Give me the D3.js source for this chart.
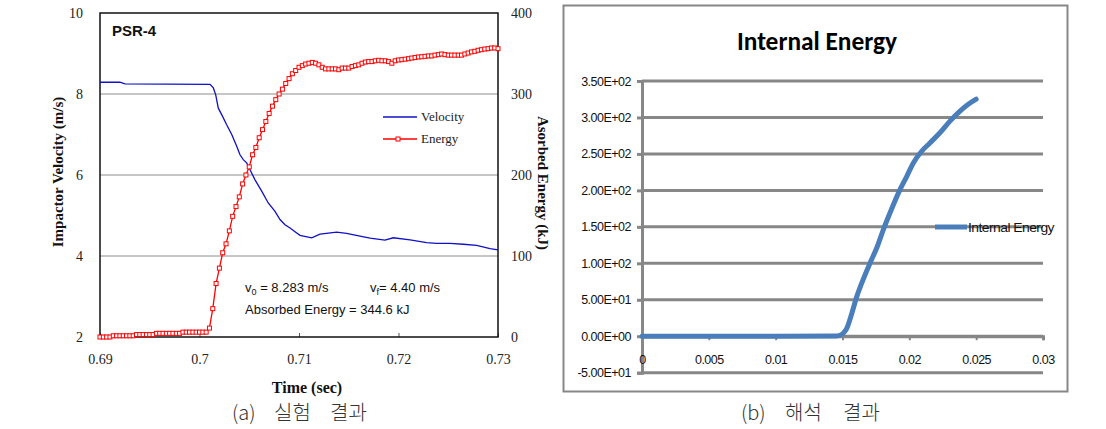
<!DOCTYPE html>
<html><head><meta charset="utf-8">
<script src="https://cdn.jsdelivr.net/npm/d3@7"></script>
<style>body{margin:0;background:#fff}svg{display:block}</style>
</head><body><svg id="c" width="1106" height="429"></svg>
<script>
// ---------- (a) experiment ----------
const velTime = [0.6900,0.6920,0.69251,0.70106,0.70139,0.70163,0.70189,0.70223,0.70273,0.70324,0.70374,0.70407,0.70440,0.70474,0.70508,0.70558,0.70625,0.70691,0.70759,0.70809,0.70859,0.70910,0.70960,0.71010,0.71128,0.71211,0.71379,0.71478,0.71613,0.71714,0.71864,0.71948,0.72116,0.72283,0.72384,0.72518,0.72652,0.72786,0.72920,0.73000];
const velValue = [8.29,8.29,8.25,8.24,8.15,7.98,7.65,7.49,7.24,7.00,6.71,6.50,6.38,6.30,6.13,5.88,5.60,5.31,5.10,4.90,4.77,4.69,4.60,4.51,4.45,4.54,4.59,4.56,4.49,4.44,4.39,4.45,4.40,4.33,4.31,4.31,4.29,4.26,4.18,4.15];
const energyStart = 0.69, energyStep = 0.04/120;
const energyValue = [0,0,0,0,1.5,1.5,1.5,1.5,1.5,1.5,1.5,3,3,3,3,3,3,4.5,4.5,4.5,4.5,4.5,4.5,4.5,4.5,6,6,6,6,6,6,6,6,
 11,35,66,85,104,115,131,149,161,173,189,200,210,225,234,246,256,266,276,285,293,300,306,313,319,325,329,333,335,337,338,339,338,336,333,331,331,331,331,330,332,332,332,334,335,336,338,339.5,340,340,341,341.6,341,341,340,338,341,342,342.4,343,343.6,344.4,345,345.7,346,346.5,347,347,348,348.6,349.4,348.6,348,348,348,348,348,349.4,350.6,352,352.7,354,354.7,355.5,356,356.8,356.8,356];
const aXTicks = [0.69,0.70,0.71,0.72,0.73];
const aXTickLabels = ["0.69","0.7","0.71","0.72","0.73"];
const aVelTicks = [2,4,6,8,10];
const aEnergyTicks = [0,100,200,300,400];

// ---------- (b) analysis ----------
const simTime = [0,0.005,0.01,0.0145,0.01481,0.0151,0.01531,0.01569,0.01606,0.01643,0.01705,0.01755,0.01805,0.01855,0.0193,0.0198,0.0203,0.02092,0.02154,0.02229,0.02304,0.02379,0.02441,0.0250];
const simEnergy = [0,0,0,0.3,1.4,5,10.5,31,54,72.5,100,120.6,146,169,201,219,237.6,253.7,265,279,295,308.7,318,325];
const bXTicks = [0,0.005,0.01,0.015,0.02,0.025,0.03];
const bXTickLabels = ["0","0.005","0.01","0.015","0.02","0.025","0.03"];
const bYTicks = [-50,0,50,100,150,200,250,300,350];
const bYTickLabels = ["-5.00E+01","0.00E+00","5.00E+01","1.00E+02","1.50E+02","2.00E+02","2.50E+02","3.00E+02","3.50E+02"];

const svg = d3.select("#c");
const serif = "'Liberation Serif','Times New Roman',serif";
const sans = "'Liberation Sans',Arial,sans-serif";

// ===== Panel (a) =====
const L = {l:100, r:498, t:13, b:337};
const xA = d3.scaleLinear().domain([0.69,0.73]).range([L.l,L.r]);
const yV = d3.scaleLinear().domain([2,10]).range([L.b,L.t]);
const yE = d3.scaleLinear().domain([0,400]).range([L.b,L.t]);
const gA = svg.append("g");

// gridlines
gA.selectAll(".grid").data(aVelTicks.filter(d=>d>2&&d<10)).enter().append("line")
  .attr("x1",L.l).attr("x2",L.r).attr("y1",d=>yV(d)).attr("y2",d=>yV(d))
  .attr("stroke","#8c8c8c").attr("stroke-width",1);

// x axis (inner ticks)
const xAxisA = d3.axisBottom(xA).tickValues(aXTicks).tickFormat((d,i)=>aXTickLabels[i]).tickSize(-4).tickPadding(17);
const gxA = gA.append("g").attr("transform",`translate(0,${L.b})`).call(xAxisA);
gxA.select(".domain").remove();
gxA.selectAll("line").attr("stroke","#555");
gxA.selectAll("text").attr("font-family",serif).attr("font-size",14).attr("fill","#222");

// left axis
const gyA = gA.append("g").attr("transform",`translate(${L.l},0)`)
  .call(d3.axisLeft(yV).tickValues(aVelTicks).tickSize(0).tickPadding(17));
gyA.select(".domain").remove();
gyA.selectAll("text").attr("font-family",serif).attr("font-size",14).attr("fill","#222");

// right axis
const gyA2 = gA.append("g").attr("transform",`translate(${L.r},0)`)
  .call(d3.axisRight(yE).tickValues(aEnergyTicks).tickSize(0).tickPadding(13));
gyA2.select(".domain").remove();
gyA2.selectAll("text").attr("font-family",serif).attr("font-size",14).attr("fill","#222");

// frame
gA.append("rect").attr("x",L.l).attr("y",L.t).attr("width",L.r-L.l).attr("height",L.b-L.t)
  .attr("fill","none").attr("stroke","#111").attr("stroke-width",1.5);

// velocity line
const velData = velTime.map((t,i)=>({t, v:velValue[i]}));
gA.append("path").datum(velData)
  .attr("d", d3.line().x(d=>xA(d.t)).y(d=>yV(d.v)))
  .attr("fill","none").attr("stroke","#1010c8").attr("stroke-width",1.3);

// energy line + markers
const enData = energyValue.map((e,i)=>({t: energyStart + i*energyStep, e}));
gA.append("path").datum(enData)
  .attr("d", d3.line().x(d=>xA(d.t)).y(d=>yE(d.e)))
  .attr("fill","none").attr("stroke","#ff0000").attr("stroke-width",1.3);
gA.selectAll(".mk").data(enData).enter().append("rect")
  .attr("x",d=>xA(d.t)-2).attr("y",d=>yE(d.e)-2).attr("width",4).attr("height",4)
  .attr("fill","#fff").attr("stroke","#ff0000").attr("stroke-width",1);

// PSR-4
gA.append("text").attr("x",112).attr("y",36).text("PSR-4")
  .attr("font-family",sans).attr("font-weight","bold").attr("font-size",15).attr("fill","#111");

// legend
gA.append("line").attr("x1",383).attr("x2",417).attr("y1",117).attr("y2",117).attr("stroke","#1010c8").attr("stroke-width",1.3);
gA.append("text").attr("x",421).attr("y",121).text("Velocity").attr("font-family",serif).attr("font-size",13).attr("fill","#222");
gA.append("line").attr("x1",383).attr("x2",417).attr("y1",139).attr("y2",139).attr("stroke","#ff0000").attr("stroke-width",1.3);
gA.append("rect").attr("x",396).attr("y",137).attr("width",4).attr("height",4).attr("fill","#fff").attr("stroke","#ff0000");
gA.append("text").attr("x",421).attr("y",143).text("Energy").attr("font-family",serif).attr("font-size",13).attr("fill","#222");

// annotations
const t1 = gA.append("text").attr("x",245).attr("y",292).attr("font-family",sans).attr("font-size",13).attr("fill","#111");
t1.append("tspan").text("v");
t1.append("tspan").attr("font-size",9).attr("dy",3).text("0");
t1.append("tspan").attr("dy",-3).text(" = 8.283 m/s");
const t2 = gA.append("text").attr("x",370).attr("y",292).attr("font-family",sans).attr("font-size",13).attr("fill","#111");
t2.append("tspan").text("v");
t2.append("tspan").attr("font-size",9).attr("dy",3).text("f");
t2.append("tspan").attr("dy",-3).text("= 4.40 m/s");
gA.append("text").attr("x",245).attr("y",314).text("Absorbed Energy = 344.6 kJ")
  .attr("font-family",sans).attr("font-size",13).attr("fill","#111");

// axis titles
gA.append("text").attr("x",307).attr("y",393).attr("text-anchor","middle").text("Time (sec)")
  .attr("font-family",serif).attr("font-weight","bold").attr("font-size",16).attr("fill","#111");
gA.append("text").attr("transform","translate(63,172) rotate(-90)").attr("text-anchor","middle")
  .text("Impactor Velocity (m/s)").attr("font-family",serif).attr("font-weight","bold").attr("font-size",15).attr("fill","#111");
gA.append("text").attr("transform","translate(538,183) rotate(90)").attr("text-anchor","middle")
  .text("Asorbed Energy (kJ)").attr("font-family",serif).attr("font-weight","bold").attr("font-size",15).attr("fill","#111");

// ===== Panel (b) =====
const R = {l:642, r:1043, t:81, b:372.7};
const xB = d3.scaleLinear().domain([0,0.03]).range([R.l,R.r]);
const yB = d3.scaleLinear().domain([-50,350]).range([R.b,R.t]);
const gB = svg.append("g");
const grey = "#878787";
const cal = "Carlito,Calibri,'Liberation Sans',Arial,sans-serif";

gB.append("rect").attr("x",563.5).attr("y",5.5).attr("width",504).attr("height",386)
  .attr("fill","#fff").attr("stroke",grey).attr("stroke-width",2);

gB.append("text").attr("x",817).attr("y",50).attr("text-anchor","middle").text("Internal Energy")
  .attr("font-family",cal).attr("font-weight","bold").attr("font-size",27).attr("fill","#000")
  .attr("textLength",160).attr("lengthAdjust","spacingAndGlyphs");

// gridlines
gB.selectAll(".g").data(bYTicks).enter().append("line")
  .attr("x1",R.l).attr("x2",R.r).attr("y1",d=>yB(d)).attr("y2",d=>yB(d))
  .attr("stroke",grey).attr("stroke-width",3);

// y axis
const gyB = gB.append("g").attr("transform",`translate(${R.l},0)`)
  .call(d3.axisLeft(yB).tickValues(bYTicks).tickFormat((d,i)=>bYTickLabels[i]).tickSize(5).tickPadding(6));
gyB.select(".domain").attr("stroke",grey).attr("stroke-width",3);
gyB.selectAll("line").attr("stroke",grey).attr("stroke-width",3);
gyB.selectAll("text").attr("font-family",sans).attr("font-size",12.5).attr("letter-spacing",-0.5).attr("fill","#111");

// x axis at 0
const gxB = gB.append("g").attr("transform",`translate(0,${yB(0)})`)
  .call(d3.axisBottom(xB).tickValues(bXTicks).tickFormat((d,i)=>bXTickLabels[i]).tickSize(4).tickPadding(15));
gxB.select(".domain").attr("stroke",grey).attr("stroke-width",3);
gxB.selectAll("line").attr("stroke",grey).attr("stroke-width",2);
gxB.selectAll("text").attr("font-family",sans).attr("font-size",12.5).attr("letter-spacing",-0.5).attr("fill","#111");

// curve
const simData = simTime.map((t,i)=>({t, e:simEnergy[i]}));
gB.append("path").datum(simData)
  .attr("d", d3.line().curve(d3.curveMonotoneX).x(d=>xB(d.t)).y(d=>yB(d.e)))
  .attr("fill","none").attr("stroke","#4a7ebb").attr("stroke-width",5).attr("stroke-linecap","round");

// legend
gB.append("line").attr("x1",935).attr("x2",967).attr("y1",227).attr("y2",227).attr("stroke","#4a7ebb").attr("stroke-width",5);
gB.append("text").attr("x",968).attr("y",231.5).text("Internal Energy")
  .attr("font-family",sans).attr("font-size",12.5).attr("letter-spacing",-0.5).attr("fill","#111")
  .attr("textLength",86).attr("lengthAdjust","spacingAndGlyphs");

// ===== captions =====
const cap = "'Noto Sans CJK KR',sans-serif";
function caption(parts){
  parts.forEach(p=>svg.append("text").attr("x",p[0]).attr("y",420).text(p[1])
    .attr("font-family",cap).attr("font-size",20).attr("font-weight",300).attr("fill","#333"));
}
caption([[232,"(a)"],[274,"실험"],[330,"결과"]]);
caption([[741,"(b)"],[785,"해석"],[843,"결과"]]);
</script></body></html>
